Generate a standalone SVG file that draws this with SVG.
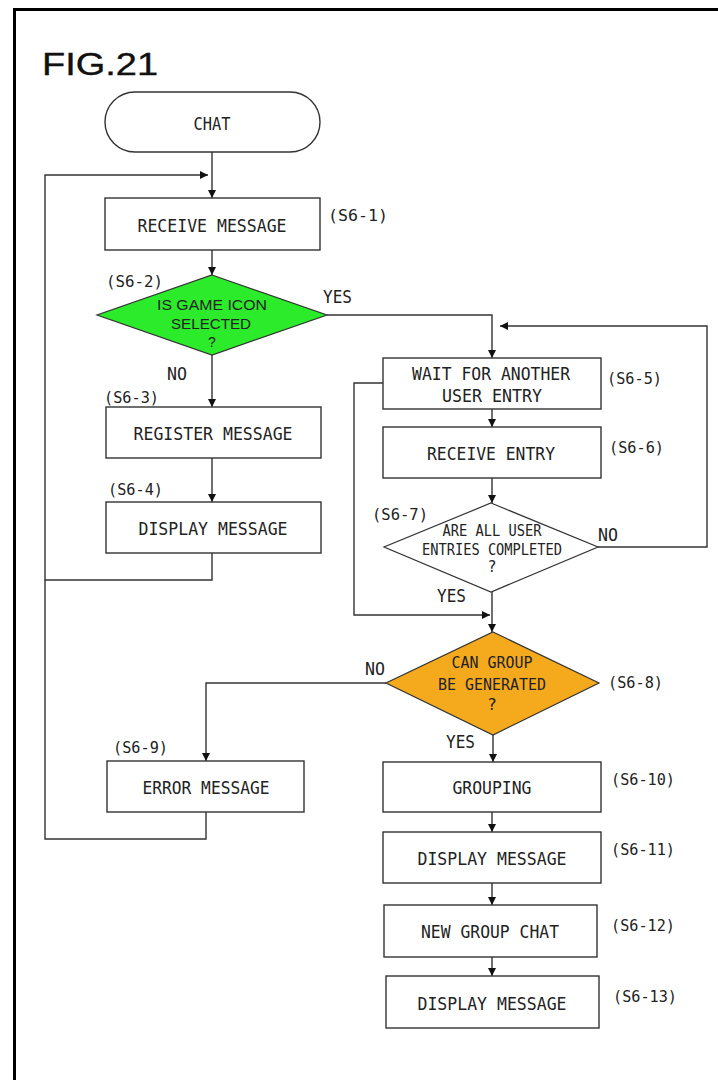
<svg xmlns="http://www.w3.org/2000/svg" width="718" height="1080" viewBox="0 0 718 1080">
<style>
.box{fill:#fff;stroke:#333;stroke-width:1.4}
.t{font-family:"DejaVu Sans Mono","Liberation Mono",monospace;font-size:18px;fill:#222;text-anchor:middle}
.lb{font-family:"DejaVu Sans Mono","Liberation Mono",monospace;font-size:16.5px;fill:#222}
.yn{font-family:"DejaVu Sans Mono","Liberation Mono",monospace;font-size:17.5px;fill:#222}
.c{fill:none;stroke:#333;stroke-width:1.4}
.ca{fill:none;stroke:#333;stroke-width:1.4;marker-end:url(#ah)}
</style>
<defs>
<marker id="ah" viewBox="0 0 10 10" refX="10" refY="5" markerWidth="8" markerHeight="8" markerUnits="userSpaceOnUse" orient="auto">
<path d="M0,0 L10,5 L0,10 z" fill="#111"/>
</marker>
</defs>
<rect width="718" height="1080" fill="#fff"/>
<path d="M14.5,1080 V9.5 H718" fill="none" stroke="#000" stroke-width="3"/>
<text x="42" y="75" font-family="'Liberation Sans',Arial,sans-serif" font-size="31" textLength="116" lengthAdjust="spacingAndGlyphs" fill="#111" stroke="#111" stroke-width="0.4">FIG.21</text>

<g id="connectors">
<path class="ca" d="M212,152 V198"/>
<path class="ca" d="M212,553 V580 H45 V175 H208"/>
<path class="c" d="M206,812 V839 H45 V580"/>
<path class="ca" d="M212,250 V275"/>
<path class="ca" d="M212,355 V407"/>
<path class="ca" d="M212,458 V502"/>
<path class="ca" d="M327,315 H492 V358"/>
<path class="ca" d="M598,547 H707 V326 H500"/>
<path class="ca" d="M383,383 H354 V615 H490"/>
<path class="ca" d="M492,409 V427"/>
<path class="ca" d="M492,478 V503"/>
<path class="ca" d="M492,592 V632"/>
<path class="ca" d="M386,683 H206 V761"/>
<path class="ca" d="M493,735 V762"/>
<path class="ca" d="M492,812 V832"/>
<path class="ca" d="M492,883 V905"/>
<path class="ca" d="M492,957 V976"/>
<text class="yn" x="323" y="303" textLength="29" lengthAdjust="spacingAndGlyphs">YES</text>
<text class="yn" x="167" y="380" textLength="20" lengthAdjust="spacingAndGlyphs">NO</text>
<text class="yn" x="598" y="541" textLength="20" lengthAdjust="spacingAndGlyphs">NO</text>
<text class="yn" x="437" y="602" textLength="29" lengthAdjust="spacingAndGlyphs">YES</text>
<text class="yn" x="365" y="675" textLength="20" lengthAdjust="spacingAndGlyphs">NO</text>
<text class="yn" x="446" y="748" textLength="29" lengthAdjust="spacingAndGlyphs">YES</text>
</g>

<g id="chat">
<rect class="box" x="105" y="92" width="215" height="60" rx="30" ry="30"/>
<text class="t" x="212" y="130" textLength="37" lengthAdjust="spacingAndGlyphs">CHAT</text>
</g>
<g id="s6-1">
<rect class="box" x="105" y="198" width="215" height="52"/>
<text class="t" x="212" y="232" textLength="149" lengthAdjust="spacingAndGlyphs">RECEIVE MESSAGE</text>
<text class="lb" x="328" y="221" textLength="60" lengthAdjust="spacingAndGlyphs">(S6-1)</text>
</g>
<g id="s6-2">
<polygon points="212,275 327,315 212,355 97,315" fill="#2BEB2B" stroke="#333" stroke-width="1.2"/>
<g font-family="'Liberation Sans',Arial,sans-serif" font-size="14" fill="#222" text-anchor="middle">
<text x="212" y="310" textLength="110" lengthAdjust="spacingAndGlyphs">IS GAME ICON</text>
<text x="211" y="329" textLength="80" lengthAdjust="spacingAndGlyphs">SELECTED</text>
<text x="212" y="347">?</text>
</g>
<text class="lb" x="106" y="287" textLength="57" lengthAdjust="spacingAndGlyphs">(S6-2)</text>
</g>
<g id="s6-3">
<rect class="box" x="106" y="407" width="215" height="51"/>
<text class="t" x="213" y="440" textLength="159" lengthAdjust="spacingAndGlyphs">REGISTER MESSAGE</text>
<text class="lb" x="104" y="403" textLength="55" lengthAdjust="spacingAndGlyphs">(S6-3)</text>
</g>
<g id="s6-4">
<rect class="box" x="106" y="502" width="215" height="51"/>
<text class="t" x="213" y="535" textLength="149" lengthAdjust="spacingAndGlyphs">DISPLAY MESSAGE</text>
<text class="lb" x="108" y="495" textLength="55" lengthAdjust="spacingAndGlyphs">(S6-4)</text>
</g>
<g id="s6-5">
<rect class="box" x="383" y="358" width="218" height="51"/>
<text class="t" x="491" y="380" textLength="158" lengthAdjust="spacingAndGlyphs">WAIT FOR ANOTHER</text>
<text class="t" x="492" y="402" textLength="100" lengthAdjust="spacingAndGlyphs">USER ENTRY</text>
<text class="lb" x="607" y="384" textLength="55" lengthAdjust="spacingAndGlyphs">(S6-5)</text>
</g>
<g id="s6-6">
<rect class="box" x="383" y="427" width="218" height="51"/>
<text class="t" x="491" y="460" textLength="128" lengthAdjust="spacingAndGlyphs">RECEIVE ENTRY</text>
<text class="lb" x="609" y="453" textLength="55" lengthAdjust="spacingAndGlyphs">(S6-6)</text>
</g>
<g id="s6-7">
<polygon points="491,503 598,547 491,592 384,547" fill="#fff" stroke="#333" stroke-width="1.2"/>
<g font-family="'DejaVu Sans Mono','Liberation Mono',monospace" font-size="15" fill="#222" text-anchor="middle">
<text x="492" y="536" textLength="99" lengthAdjust="spacingAndGlyphs">ARE ALL USER</text>
<text x="492" y="555" textLength="140" lengthAdjust="spacingAndGlyphs">ENTRIES COMPLETED</text>
<text x="492" y="572">?</text>
</g>
<text class="lb" x="372" y="520" textLength="56" lengthAdjust="spacingAndGlyphs">(S6-7)</text>
</g>
<g id="s6-8">
<polygon points="493,632 599,683 493,735 386,683" fill="#F5AA1E" stroke="#333" stroke-width="1.2"/>
<g font-family="'DejaVu Sans Mono','Liberation Mono',monospace" font-size="16.5" fill="#222" text-anchor="middle">
<text x="492" y="668" textLength="81" lengthAdjust="spacingAndGlyphs">CAN GROUP</text>
<text x="492" y="690" textLength="108" lengthAdjust="spacingAndGlyphs">BE GENERATED</text>
<text x="492" y="710">?</text>
</g>
<text class="lb" x="608" y="688" textLength="55" lengthAdjust="spacingAndGlyphs">(S6-8)</text>
</g>
<g id="s6-9">
<rect class="box" x="107" y="761" width="197" height="51"/>
<text class="t" x="206" y="794" textLength="127" lengthAdjust="spacingAndGlyphs">ERROR MESSAGE</text>
<text class="lb" x="113" y="753" textLength="55" lengthAdjust="spacingAndGlyphs">(S6-9)</text>
</g>
<g id="s6-10">
<rect class="box" x="383" y="762" width="218" height="50"/>
<text class="t" x="492" y="794" textLength="79" lengthAdjust="spacingAndGlyphs">GROUPING</text>
<text class="lb" x="611" y="785" textLength="64" lengthAdjust="spacingAndGlyphs">(S6-10)</text>
</g>
<g id="s6-11">
<rect class="box" x="383" y="832" width="218" height="51"/>
<text class="t" x="492" y="865" textLength="149" lengthAdjust="spacingAndGlyphs">DISPLAY MESSAGE</text>
<text class="lb" x="611" y="855" textLength="64" lengthAdjust="spacingAndGlyphs">(S6-11)</text>
</g>
<g id="s6-12">
<rect class="box" x="384" y="905" width="213" height="52"/>
<text class="t" x="490" y="938" textLength="138" lengthAdjust="spacingAndGlyphs">NEW GROUP CHAT</text>
<text class="lb" x="611" y="931" textLength="64" lengthAdjust="spacingAndGlyphs">(S6-12)</text>
</g>
<g id="s6-13">
<rect class="box" x="386" y="976" width="213" height="52"/>
<text class="t" x="492" y="1010" textLength="149" lengthAdjust="spacingAndGlyphs">DISPLAY MESSAGE</text>
<text class="lb" x="613" y="1002" textLength="64" lengthAdjust="spacingAndGlyphs">(S6-13)</text>
</g>
</svg>
